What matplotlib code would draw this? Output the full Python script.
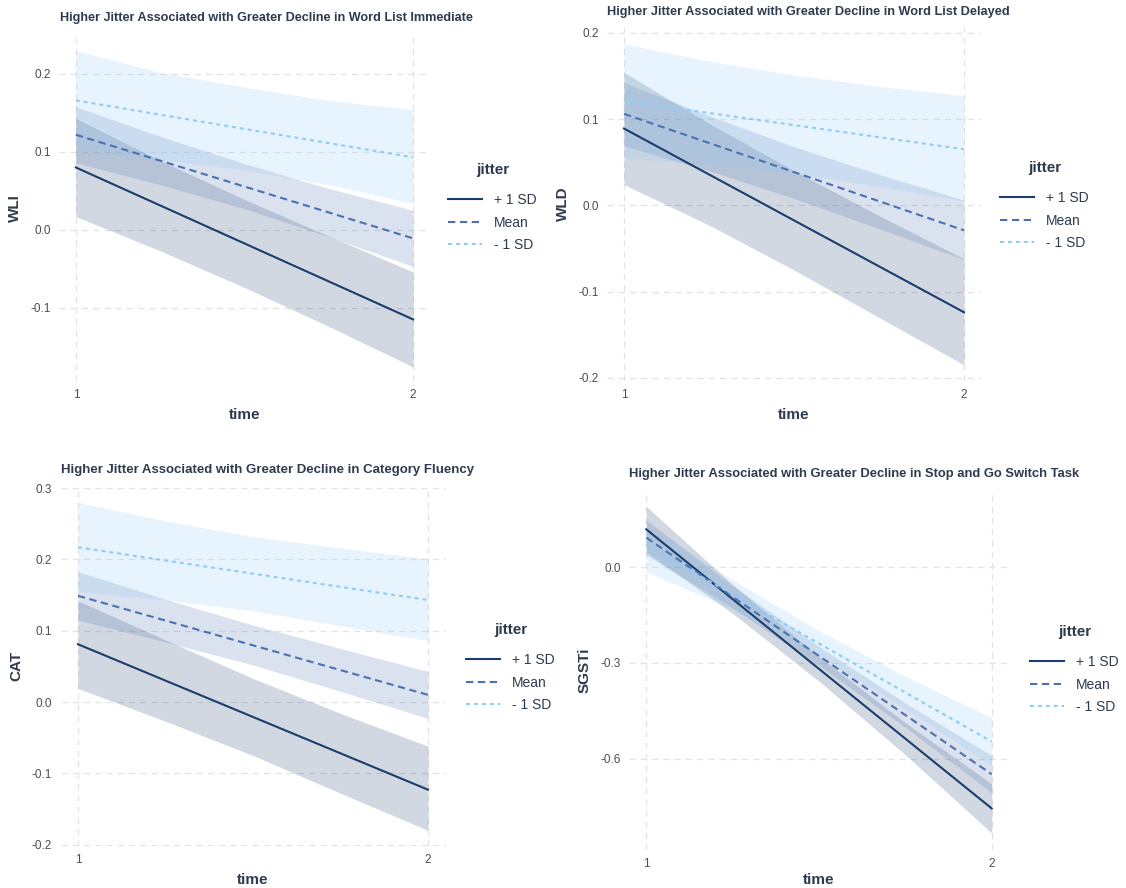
import matplotlib.pyplot as plt
from matplotlib.lines import Line2D

plt.rcParams['font.family'] = ['Liberation Sans', 'DejaVu Sans']

# Tidspunkt der linjene og grensene til baandene er lest av
t_line = [1, 2]
t_band = [1, 1.25, 1.5, 1.75, 2]

# Panel 1 - WLI
wli_hi = [0.080, -0.115]
wli_hi_lo = [0.017, -0.027, -0.074, -0.124, -0.176]
wli_hi_up = [0.143, 0.089, 0.039, -0.008, -0.054]
wli_mean = [0.122, -0.011]
wli_mean_lo = [0.086, 0.058, 0.027, -0.009, -0.047]
wli_mean_up = [0.158, 0.120, 0.085, 0.053, 0.025]
wli_lo = [0.166, 0.093]
wli_lo_lo = [0.101, 0.090, 0.077, 0.058, 0.034]
wli_lo_up = [0.230, 0.202, 0.183, 0.166, 0.154]

# Panel 2 - WLD
wld_hi = [0.089, -0.124]
wld_hi_lo = [0.024, -0.023, -0.075, -0.130, -0.185]
wld_hi_up = [0.154, 0.095, 0.040, -0.012, -0.062]
wld_mean = [0.106, -0.029]
wld_mean_lo = [0.069, 0.040, 0.008, -0.027, -0.063]
wld_mean_up = [0.142, 0.104, 0.068, 0.036, 0.006]
wld_lo = [0.121, 0.065]
wld_lo_lo = [0.055, 0.047, 0.037, 0.022, 0.005]
wld_lo_up = [0.187, 0.167, 0.151, 0.138, 0.127]

# Panel 3 - CAT
cat_hi = [0.081, -0.123]
cat_hi_lo = [0.019, -0.027, -0.075, -0.128, -0.180]
cat_hi_up = [0.142, 0.087, 0.033, -0.016, -0.062]
cat_mean = [0.149, 0.010]
cat_mean_lo = [0.115, 0.084, 0.052, 0.015, -0.023]
cat_mean_up = [0.183, 0.144, 0.108, 0.075, 0.043]
cat_lo = [0.217, 0.143]
cat_lo_lo = [0.155, 0.143, 0.128, 0.107, 0.086]
cat_lo_up = [0.280, 0.254, 0.232, 0.216, 0.201]

# Panel 4 - SGSTi
sg_hi = [0.118, -0.755]
sg_hi_lo = [0.046, -0.145, -0.357, -0.587, -0.832]
sg_hi_up = [0.190, -0.055, -0.280, -0.487, -0.678]
sg_mean = [0.092, -0.648]
sg_mean_lo = [0.037, -0.128, -0.308, -0.501, -0.706]
sg_mean_up = [0.147, -0.058, -0.248, -0.425, -0.590]
sg_lo = [0.068, -0.546]
sg_lo_lo = [-0.015, -0.131, -0.279, -0.443, -0.621]
sg_lo_up = [0.130, -0.040, -0.199, -0.342, -0.471]

labels = ['+ 1 SD', 'Mean', '- 1 SD']
colors = ['#1b3d6d', '#4a72b0', '#8ecbf7']
styles = ['-', (0, (3.5, 2.2)), (0, (1.9, 1.9))]

panels = [
    dict(title='Higher Jitter Associated with Greater Decline in Word List Immediate',
         tsize=9.1, ylab='WLI', yticks=[-0.1, 0.0, 0.1, 0.2], ylim=(-0.194, 0.25),
         rect=(59, 35, 430, 381), leg=(448, 170), tpos=(60, 18), xpad=5,
         lines=[wli_hi, wli_mean, wli_lo],
         bands=[(wli_hi_lo, wli_hi_up), (wli_mean_lo, wli_mean_up), (wli_lo_lo, wli_lo_up)]),
    dict(title='Higher Jitter Associated with Greater Decline in Word List Delayed',
         tsize=9.2, ylab='WLD', yticks=[-0.2, -0.1, 0.0, 0.1, 0.2], ylim=(-0.2037, 0.2067),
         rect=(607, 27, 981, 381), leg=(1000, 168), tpos=(607, 12), xpad=5,
         lines=[wld_hi, wld_mean, wld_lo],
         bands=[(wld_hi_lo, wld_hi_up), (wld_mean_lo, wld_mean_up), (wld_lo_lo, wld_lo_up)]),
    dict(title='Higher Jitter Associated with Greater Decline in Category Fluency',
         tsize=9.5, ylab='CAT', yticks=[-0.2, -0.1, 0.0, 0.1, 0.2, 0.3], ylim=(-0.202, 0.303),
         rect=(60.5, 486, 445.5, 846), leg=(466, 630), tpos=(61, 470), xpad=5,
         lines=[cat_hi, cat_mean, cat_lo],
         bands=[(cat_hi_lo, cat_hi_up), (cat_mean_lo, cat_mean_up), (cat_lo_lo, cat_lo_up)]),
    dict(title='Higher Jitter Associated with Greater Decline in Stop and Go Switch Task',
         tsize=9.4, ylab='SGSTi', yticks=[-0.6, -0.3, 0.0], ylim=(-0.885, 0.241),
         rect=(629, 490, 1009, 850), leg=(1030, 632), tpos=(629, 474), xpad=2,
         lines=[sg_hi, sg_mean, sg_lo],
         bands=[(sg_hi_lo, sg_hi_up), (sg_mean_lo, sg_mean_up), (sg_lo_lo, sg_lo_up)]),
]

W, H = 1126, 888
fig = plt.figure(figsize=(W / 100, H / 100), dpi=100)
txt = '#2e3b4e'

for p in panels:
    x0, y0, x1, y1 = p['rect']
    ax = fig.add_axes([x0 / W, 1 - y1 / H, (x1 - x0) / W, (y1 - y0) / H])
    for (lo, up), c in zip(p['bands'], colors):
        ax.fill_between(t_band, lo, up, color=c, alpha=0.2, linewidth=0)
    for y, c, ls in zip(p['lines'], colors, styles):
        ax.plot(t_line, y, color=c, linestyle=ls, linewidth=1.5)
    ax.set_xlim(0.95, 2.05)
    ax.set_ylim(*p['ylim'])
    ax.set_xticks([1, 2])
    ax.set_yticks(p['yticks'])
    ax.set_yticklabels(['{:.1f}'.format(v) for v in p['yticks']])
    ax.tick_params(length=0, labelsize=8.5, labelcolor='#4d4d4d', pad=6)
    for s in ax.spines.values():
        s.set_visible(False)
    ax.grid(True, color='#e3e3e3', linestyle=(0, (5, 4)), linewidth=0.9)
    ax.set_axisbelow(True)
    ax.set_xlabel('time', fontsize=11, fontweight='bold', color=txt, labelpad=p['xpad'])
    ax.set_ylabel(p['ylab'], fontsize=11, fontweight='bold', color=txt, labelpad=6)
    fig.text(p['tpos'][0] / W, 1 - p['tpos'][1] / H, p['title'], fontsize=p['tsize'],
             fontweight='bold', color=txt, va='center', ha='left')

    # legende: tittel for seg, oppfoeringer under
    lx, ly = p['leg']
    handles = [Line2D([], [], color=c, linestyle=ls, linewidth=1.5)
               for c, ls in zip(colors, styles)]
    leg = fig.legend(handles, labels, loc='upper left',
                     bbox_to_anchor=(lx / W, 1 - (ly + 23) / H), frameon=False,
                     fontsize=10, handlelength=2.45, handletextpad=0.85,
                     labelspacing=0.62, borderpad=0, borderaxespad=0)
    for t in leg.get_texts():
        t.set_color(txt)
    fig.text((lx + 45) / W, 1 - ly / H, 'jitter', fontsize=11, fontweight='bold',
             color=txt, ha='center', va='center')

fig.savefig('out.png', dpi=100, facecolor='white')
